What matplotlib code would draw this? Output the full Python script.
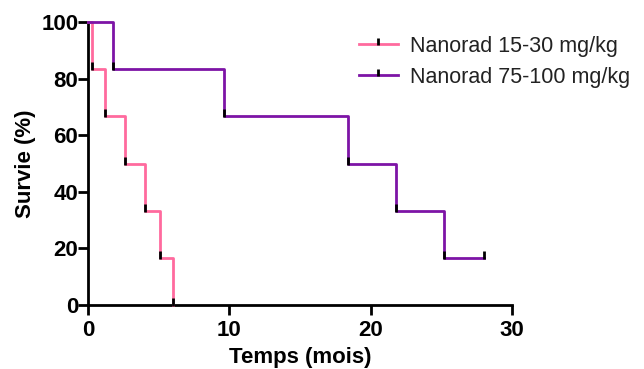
import matplotlib
matplotlib.use("Agg")
import matplotlib.pyplot as plt
from matplotlib.lines import Line2D

# Kaplan-Meier data (time in months, survival in %)
low_t = [0, 0.3, 1.2, 2.6, 4.0, 5.1, 6.0]
low_s = [100, 83.3, 66.7, 50, 33.3, 16.7, 0]
high_t = [0, 1.8, 9.6, 18.4, 21.8, 25.2, 28.0]
high_s = [100, 83.3, 66.7, 50, 33.3, 16.7, 16.7]
labels = ["Nanorad 15-30 mg/kg", "Nanorad 75-100 mg/kg"]
colors = ["#FF6A9E", "#7D14A6"]

plt.rcParams['font.family'] = ['Liberation Sans', 'DejaVu Sans']

# tick marker pointing up from the data point
tick = [(0, -0.2), (0, 1)]

fig = plt.figure(figsize=(6.44, 3.69), dpi=100)
ax = fig.add_axes([88 / 644, 1 - 305 / 369, (512 - 88) / 644, (305 - 22) / 369])

for t, s, c in [(low_t, low_s, colors[0]), (high_t, high_s, colors[1])]:
    ax.step(t, s, where='post', color=c, lw=2, clip_on=False, zorder=3)
    ax.plot(t[1:], s[1:], ls='none', marker=tick, ms=10, mec='k', mew=2,
            clip_on=False, zorder=4)

ax.set_xlim(0, 30)
ax.set_ylim(0, 100)
ax.set_xticks([0, 10, 20, 30])
ax.set_yticks([0, 20, 40, 60, 80, 100])
for side in ['top', 'right']:
    ax.spines[side].set_visible(False)
for side in ['left', 'bottom']:
    ax.spines[side].set_linewidth(2)
ax.tick_params(direction='out', length=7, width=2, labelsize=16)
ax.tick_params(axis='y', pad=0)
ax.tick_params(axis='x', pad=4)
for lab in ax.get_xticklabels() + ax.get_yticklabels():
    lab.set_fontweight('bold')

ax.set_xlabel("Temps (mois)", fontsize=16, fontweight='bold', labelpad=4)
ax.set_ylabel("Survie (%)", fontsize=16, fontweight='bold', labelpad=4)

handles = [Line2D([], [], color=c, lw=2, marker=tick, ms=9, mec='k', mew=2)
           for c in colors]
fig.legend(handles, labels, loc='upper left', frameon=False, fontsize=15.5,
           bbox_to_anchor=(359 / 644, 1 - 36 / 369), borderpad=0,
           borderaxespad=0, handlelength=1.8, handletextpad=0.55,
           labelspacing=0.45, labelcolor='#222222')

fig.savefig("out.png", dpi=100)
